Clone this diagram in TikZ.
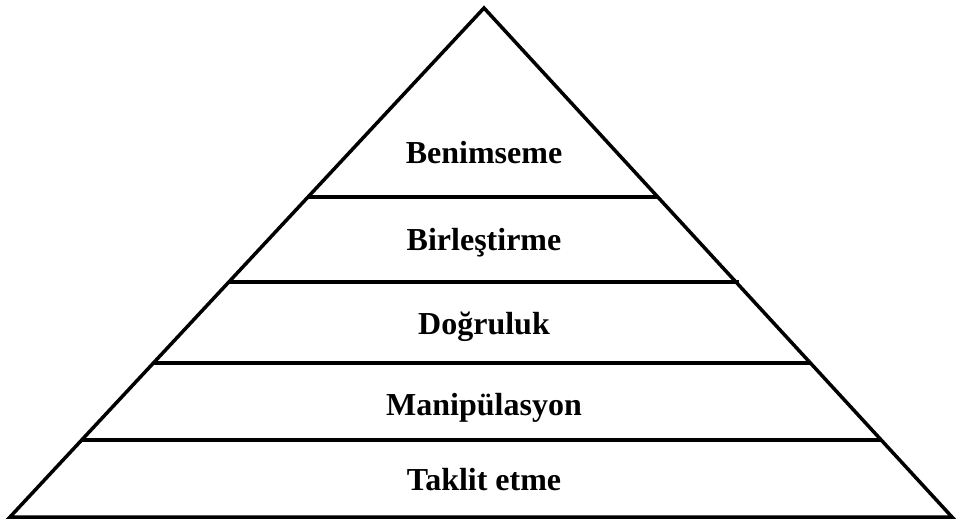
\documentclass[tikz,border=0pt]{standalone}
\usepackage{fontspec}
\setmainfont{Liberation Serif}
\tikzset{
  edge/.style={line width=3.5pt, black},
  level/.style={font=\fontsize{32}{36}\selectfont\bfseries, anchor=center, inner sep=0pt}
}
\begin{document}
\begin{tikzpicture}[x=1pt,y=-1pt]
\useasboundingbox (0,0) rectangle (957,525);
\coordinate (apex) at (484,8);
\coordinate (bl) at (10,517);
\coordinate (br) at (952,517);
\coordinate (l1) at (308,197); \coordinate (r1) at (658,197);
\coordinate (l2) at (229,282); \coordinate (r2) at (739,282);
\coordinate (l3) at (153,363); \coordinate (r3) at (810,363);
\coordinate (l4) at (82,440);  \coordinate (r4) at (881,440);
\draw[edge, line join=miter] (apex) -- (br) -- (bl) -- cycle;
\draw[edge] (l1) -- (r1);
\draw[edge] (l2) -- (r2);
\draw[edge] (l3) -- (r3);
\draw[edge] (l4) -- (r4);
\node[level] (t1) at (484,153) {Benimseme};
\node[level] (t2) at (484,243) {Birleştirme};
\node[level] (t3) at (484,327) {Doğruluk};
\node[level] (t4) at (484,408) {Manipülasyon};
\node[level] (t5) at (484,480) {Taklit etme};
\end{tikzpicture}
\end{document}
